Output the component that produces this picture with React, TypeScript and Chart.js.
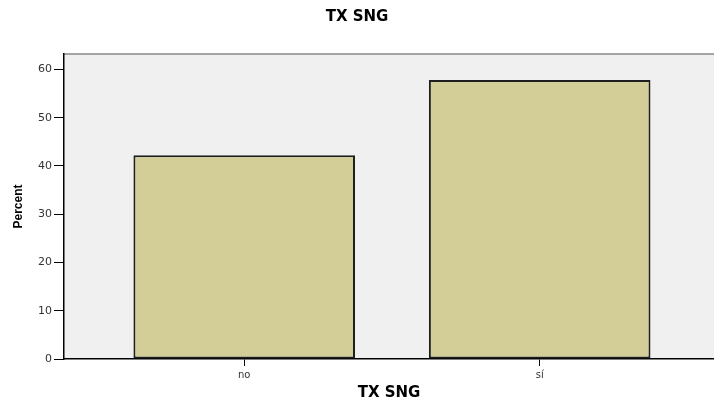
import React, { useEffect, useRef } from "react";
import { Chart, registerables } from "chart.js";

Chart.register(...registerables);

const categories = ["no", "sí"];
const percentValues = [42.2, 57.8];
const yTickValues = [0, 10, 20, 30, 40, 50, 60];
const chartTitle = "TX SNG";
const xAxisTitle = "TX SNG";
const yAxisTitle = "Percent";

const plotBackground = {
  id: "plotBackground",
  beforeDraw(chart: any) {
    const { ctx, chartArea } = chart;
    if (!chartArea) return;
    ctx.save();
    ctx.fillStyle = "#f0f0f0";
    ctx.fillRect(chartArea.left, chartArea.top, chartArea.right - chartArea.left, chartArea.bottom - chartArea.top);
    ctx.strokeStyle = "#888888";
    ctx.lineWidth = 1.5;
    ctx.beginPath();
    ctx.moveTo(chartArea.left, chartArea.top);
    ctx.lineTo(chartArea.right, chartArea.top);
    ctx.stroke();
    ctx.restore();
  },
};

export default function App() {
  const ref = useRef<HTMLCanvasElement>(null);
  useEffect(() => {
    document.body.style.margin = "0";
    const canvas = ref.current;
    if (!canvas) return;
    const chart = new Chart(canvas, {
      type: "bar",
      data: {
        datasets: [
          {
            data: percentValues.map((v, i) => ({ x: i, y: v })),
            backgroundColor: "#d3ce97",
            borderColor: "#1e1e1e",
            borderWidth: 2,
            borderSkipped: false,
            barPercentage: 0.75,
            categoryPercentage: 1,
          },
        ],
      },
      options: {
        responsive: false,
        animation: false,
        devicePixelRatio: 1,
        layout: { padding: 0 },
        plugins: {
          legend: { display: false },
          tooltip: { enabled: false },
          title: {
            display: true,
            text: chartTitle,
            color: "#000",
            font: { family: "'DejaVu Sans'", size: 15, weight: "bold" },
            padding: { top: 8, bottom: 28 },
          },
        },
        scales: {
          x: {
            type: "linear",
            offset: false,
            min: -0.61,
            max: 1.59,
            afterBuildTicks(scale: any) {
              scale.ticks = categories.map((_, i) => ({ value: i }));
            },
            afterFit(scale: any) {
              scale.height = 45;
            },
            ticks: {
              autoSkip: false,
              maxRotation: 0,
              padding: 3,
              color: "#333",
              font: { family: "'DejaVu Sans'", size: 10 },
              callback: (value: any) => categories[value as number] ?? "",
            },
            grid: { offset: false, drawOnChartArea: false, drawTicks: true, tickLength: 7, color: "#000", lineWidth: 1 },
            border: { display: true, color: "#000", width: 1.5 },
            title: {
              display: true,
              text: xAxisTitle,
              color: "#000",
              font: { family: "'DejaVu Sans'", size: 15, weight: "bold" },
              padding: { top: 0, bottom: 2 },
            },
          },
          y: {
            min: 0,
            max: 63.2,
            afterBuildTicks(scale: any) {
              scale.ticks = yTickValues.map((v) => ({ value: v }));
            },
            afterFit(scale: any) {
              scale.width = 64;
            },
            ticks: {
              padding: 2,
              color: "#333",
              font: { family: "'DejaVu Sans'", size: 11 },
            },
            grid: { drawOnChartArea: false, drawTicks: true, tickLength: 10, color: "#000", lineWidth: 1 },
            border: { display: true, color: "#000", width: 1.5 },
            title: {
              display: true,
              text: yAxisTitle,
              color: "#000",
              font: { family: "'Liberation Sans', Arial", size: 12, weight: "bold" },
              padding: { top: 11, bottom: 0 },
            },
          },
        },
      },
      plugins: [plotBackground],
    } as any);
    return () => chart.destroy();
  }, []);
  return <canvas ref={ref} width={714} height={404} style={{ display: "block" }} />;
}
